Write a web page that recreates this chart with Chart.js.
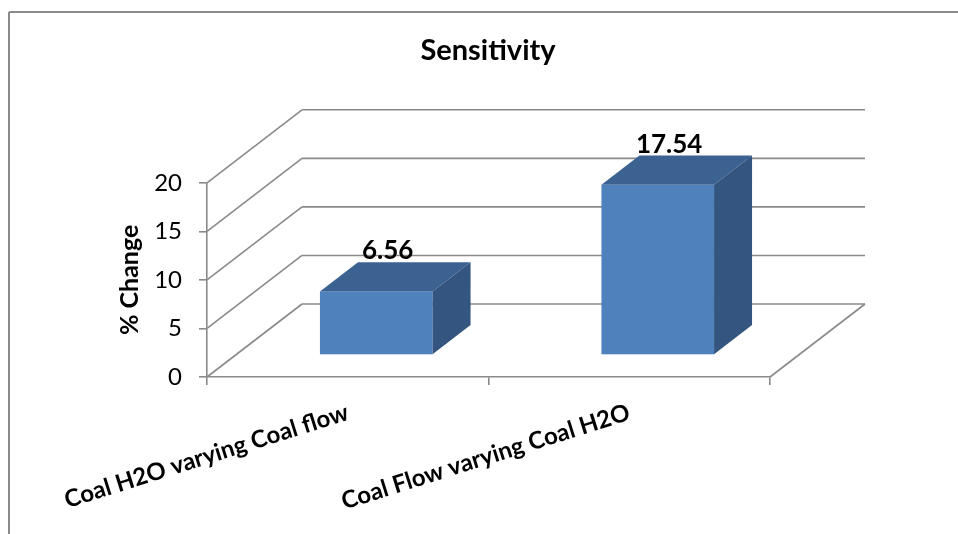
<!DOCTYPE html>
<html>
<head>
<meta charset="utf-8">
<script src="https://cdn.jsdelivr.net/npm/chart.js@4/dist/chart.umd.min.js"></script>
<style>
  html, body { margin: 0; padding: 0; background: #fff; }
  #wrap { width: 958px; height: 534px; position: relative; }
</style>
</head>
<body>
<div id="wrap"><canvas id="chart" width="958" height="534"></canvas></div>
<script>
const categories = ["Coal H2O varying Coal flow", "Coal Flow varying Coal H2O"];
const changeValues = [6.56, 17.54];
const yTicks = [0, 5, 10, 15, 20];

// 3D look of the Excel chart: how far the back wall sits from the front plane
const DEPTH_X = 95, DEPTH_Y = -73;
const BAR_FRONT = 0.3, BAR_BACK = 0.7;
const gridColor = "#8a8a8a";
const faceFront = "#4f81bd", faceTop = "#3c6291", faceSide = "#33557f";
const fontName = "Lato, 'Open Sans', sans-serif";

function line(ctx, x1, y1, x2, y2) {
    ctx.beginPath();
    ctx.moveTo(x1, y1);
    ctx.lineTo(x2, y2);
    ctx.stroke();
}

function poly(ctx, pts, color) {
    ctx.beginPath();
    ctx.moveTo(pts[0][0], pts[0][1]);
    pts.slice(1).forEach(p => ctx.lineTo(p[0], p[1]));
    ctx.closePath();
    ctx.fillStyle = color;
    ctx.fill();
}

const frame3d = {
    id: "frame3d",
    beforeDraw(chart) {
        const ctx = chart.ctx;
        ctx.save();
        ctx.strokeStyle = gridColor;
        ctx.lineWidth = 2;
        line(ctx, 9, 12, chart.width, 12);
        line(ctx, 9, 12, 9, chart.height);
        ctx.restore();
    },
    beforeDatasetsDraw(chart) {
        const { ctx, chartArea: a, scales: { y } } = chart;
        ctx.save();
        ctx.strokeStyle = gridColor;
        ctx.lineWidth = 1.6;
        yTicks.forEach(v => {
            const py = y.getPixelForValue(v);
            line(ctx, a.left, py, a.left + DEPTH_X, py + DEPTH_Y);
            line(ctx, a.left + DEPTH_X, py + DEPTH_Y, a.right + DEPTH_X, py + DEPTH_Y);
        });
        const p0 = y.getPixelForValue(0);
        line(ctx, a.right, p0, a.right + DEPTH_X, p0 + DEPTH_Y);
        ctx.restore();
    },
    afterDatasetsDraw(chart) {
        const ctx = chart.ctx;
        const meta = chart.getDatasetMeta(0);
        const fx = BAR_FRONT * DEPTH_X, fy = BAR_FRONT * DEPTH_Y;
        const bx = BAR_BACK * DEPTH_X, by = BAR_BACK * DEPTH_Y;
        ctx.save();
        meta.data.forEach((bar, i) => {
            const p = bar.getProps(["x", "y", "base", "width"], true);
            const l = p.x - p.width / 2, r = p.x + p.width / 2;
            const t = p.y, b = p.base;
            ctx.fillStyle = faceFront;
            ctx.fillRect(l + fx, t + fy, r - l, b - t);
            poly(ctx, [[l + fx, t + fy], [r + fx, t + fy], [r + bx, t + by], [l + bx, t + by]], faceTop);
            poly(ctx, [[r + fx, t + fy], [r + bx, t + by], [r + bx, b + by], [r + fx, b + fy]], faceSide);

            ctx.fillStyle = "#000";
            ctx.font = "bold 26px " + fontName;
            ctx.textAlign = "center";
            ctx.textBaseline = "alphabetic";
            ctx.fillText(String(changeValues[i]), p.x + 0.42 * DEPTH_X, t + by - 3);
        });
        ctx.restore();
    }
};

new Chart(document.getElementById("chart"), {
    type: "bar",
    data: {
        labels: categories,
        datasets: [{
            data: changeValues,
            backgroundColor: "rgba(0,0,0,0)",
            borderWidth: 0,
            barPercentage: 0.4,
            categoryPercentage: 1
        }]
    },
    options: {
        responsive: false,
        animation: false,
        layout: { padding: { left: 18, right: 0, top: 0, bottom: 0 } },
        plugins: {
            legend: { display: false },
            tooltip: { enabled: false },
            title: {
                display: true,
                text: "Sensitivity",
                color: "#000",
                font: { family: fontName, size: 29, weight: "bold" },
                padding: { top: 33, bottom: 115 }
            }
        },
        scales: {
            x: {
                grid: { drawOnChartArea: false, drawTicks: true, tickLength: 8, color: gridColor, lineWidth: 1.6 },
                border: { color: gridColor, width: 1.6 },
                ticks: {
                    color: "#000",
                    font: { family: fontName, size: 24, weight: "bold" },
                    minRotation: 17.5,
                    maxRotation: 17.5,
                    autoSkip: false,
                    padding: 13
                },
                afterFit: s => { s.height = 157; }
            },
            y: {
                min: 0,
                max: 20,
                ticks: {
                    stepSize: 5,
                    color: "#000",
                    font: { family: fontName, size: 24 },
                    padding: 17
                },
                grid: { drawOnChartArea: false, drawTicks: true, tickLength: 8, color: gridColor, lineWidth: 1.6 },
                border: { color: gridColor, width: 1.6 },
                title: {
                    display: true,
                    text: "% Change",
                    color: "#000",
                    font: { family: fontName, size: 25, weight: "bold" },
                    padding: { top: 97, bottom: 0 }
                },
                afterFit: s => { s.width = 189; }
            },
            y2: {
                position: "right",
                grid: { display: false },
                border: { display: false },
                ticks: { display: false },
                afterFit: s => { s.width = 188; }
            }
        }
    },
    plugins: [frame3d]
});
</script>
</body>
</html>
